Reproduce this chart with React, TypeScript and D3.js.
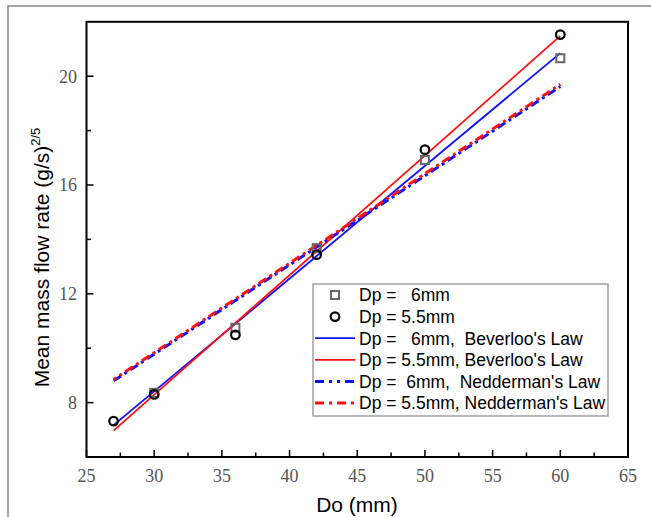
import React from "react";
import * as d3 from "d3";

const xTicks = [25, 30, 35, 40, 45, 50, 55, 60, 65];
const yTicks = [8, 12, 16, 20];
const xMinor = [27.5, 32.5, 37.5, 42.5, 47.5, 52.5, 57.5, 62.5];
const yMinor = [10, 14, 18];

const doSq = [30, 36, 42, 50, 60];
const sqVals = [8.36, 10.75, 13.68, 16.92, 20.66];
const doCirc = [27, 30, 36, 42, 50, 60];
const circVals = [7.32, 8.3, 10.49, 13.44, 17.3, 21.53];

const lineX = [27, 60];
const bev6 = [7.17, 20.85];
const bev55 = [6.97, 21.48];
const ned6 = [8.8, 19.62];
const ned55 = [8.85, 19.7];

const legendLabels = [
  "Dp =   6mm",
  "Dp = 5.5mm",
  "Dp =   6mm,  Beverloo's Law",
  "Dp = 5.5mm, Beverloo's Law",
  "Dp =  6mm,  Nedderman's Law",
  "Dp = 5.5mm, Nedderman's Law",
];

export default function App() {
  const W = 651, H = 517;
  const x = d3.scaleLinear().domain([25, 65]).range([86.5, 628]);
  const y = d3.scaleLinear().domain([6, 22]).range([457, 21.8]);
  const line = d3.line<[number, number]>().x((d) => x(d[0])).y((d) => y(d[1]));
  const mk = (vals: number[]) => line(lineX.map((v, i) => [v, vals[i]] as [number, number])) || "";
  const BLUE = "#1010ff";
  const RED = "#ff1010";
  const lgX = 313, lgY = 284, lgRow = 21.6;
  const serif = "'Liberation Serif', 'Times New Roman', serif";
  const sans = "'Liberation Sans', Arial, sans-serif";
  return (
    <svg width={W} height={H} style={{ position: "absolute", left: 0, top: 0, background: "#fff" }}>
      <rect x={0} y={0} width={W} height={H} fill="#fff" />
      <path d={`M8,${H} V6 H${W}`} fill="none" stroke="#888" strokeWidth={1.5} />
      {/* lines */}
      <path d={mk(bev6)} fill="none" stroke={BLUE} strokeWidth={1.8} />
      <path d={mk(bev55)} fill="none" stroke={RED} strokeWidth={1.8} />
      <path d={mk(ned6)} fill="none" stroke={BLUE} strokeWidth={3} strokeDasharray="9,4,3,4" />
      <path d={mk(ned55)} fill="none" stroke={RED} strokeWidth={3} strokeDasharray="9,4,3,4" strokeDashoffset={6} />
      {/* points */}
      {doSq.map((d, i) => (
        <rect key={"s" + i} x={x(d) - 4} y={y(sqVals[i]) - 4} width={8} height={8} fill="none" stroke="#666" strokeWidth={2} />
      ))}
      {doCirc.map((d, i) => (
        <circle key={"c" + i} cx={x(d)} cy={y(circVals[i])} r={4.3} fill="none" stroke="#000" strokeWidth={2.2} />
      ))}
      {/* frame */}
      <rect x={x(25)} y={y(22)} width={x(65) - x(25)} height={y(6) - y(22)} fill="none" stroke="#000" strokeWidth={2} />
      {xTicks.map((t) => (
        <g key={"xt" + t}>
          <line x1={x(t)} x2={x(t)} y1={y(6)} y2={y(6) - 7} stroke="#000" strokeWidth={1.5} />
          <text x={x(t)} y={481.5} textAnchor="middle" fontFamily={serif} fontSize={18} fill="#555">{t}</text>
        </g>
      ))}
      {xMinor.map((t) => (
        <line key={"xm" + t} x1={x(t)} x2={x(t)} y1={y(6)} y2={y(6) - 4.5} stroke="#000" strokeWidth={1.5} />
      ))}
      {yTicks.map((t) => (
        <g key={"yt" + t}>
          <line x1={x(25)} x2={x(25) + 7} y1={y(t)} y2={y(t)} stroke="#000" strokeWidth={1.5} />
          <text x={77} y={y(t)} dy="0.35em" textAnchor="end" fontFamily={serif} fontSize={18} fill="#555">{t}</text>
        </g>
      ))}
      {yMinor.map((t) => (
        <line key={"ym" + t} x1={x(25)} x2={x(25) + 4.5} y1={y(t)} y2={y(t)} stroke="#000" strokeWidth={1.5} />
      ))}
      {/* axis titles */}
      <text x={357} y={512} textAnchor="middle" fontFamily={sans} fontSize={21} fill="#000">Do (mm)</text>
      <text transform="translate(49,257.5) rotate(-90)" textAnchor="middle" fontFamily={sans} fontSize={21} fill="#000">
        Mean mass flow rate (g/s)<tspan fontSize={13} dy={-9}>2/5</tspan>
      </text>
      {/* legend */}
      <rect x={lgX} y={lgY} width={295} height={132} fill="#fff" stroke="#888" strokeWidth={1.2} />
      {legendLabels.map((lab, i) => {
        const cy = lgY + 11 + i * lgRow;
        let sym: React.ReactNode = null;
        if (i === 0) sym = <rect x={331} y={cy - 4} width={8} height={8} fill="none" stroke="#666" strokeWidth={2} />;
        else if (i === 1) sym = <circle cx={335} cy={cy} r={4.3} fill="none" stroke="#000" strokeWidth={2.2} />;
        else {
          const col = i % 2 === 0 ? BLUE : RED;
          const ned = i >= 4;
          sym = (
            <line x1={315} x2={355} y1={cy} y2={cy} stroke={col} strokeWidth={ned ? 3 : 1.8}
              strokeDasharray={ned ? (i === 4 ? "9,5,3,5,3,5" : "9,5,3,5") : undefined} />
          );
        }
        return (
          <g key={"lg" + i}>
            {sym}
            <text x={359} y={cy} dy="0.36em" fontFamily={sans} fontSize={17.5} fill="#000" style={{ whiteSpace: "pre" }}>{lab}</text>
          </g>
        );
      })}
    </svg>
  );
}
